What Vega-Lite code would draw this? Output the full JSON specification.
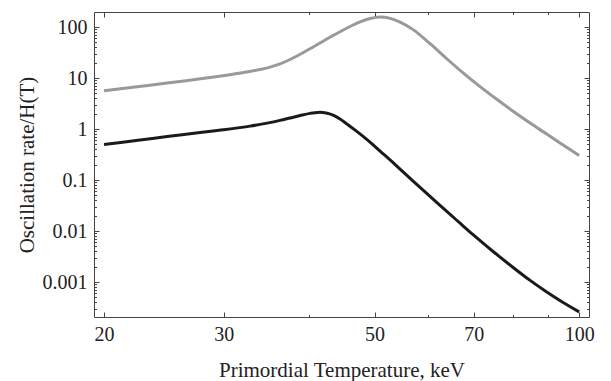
{
  "$schema": "https://vega.github.io/schema/vega-lite/v6.json",
  "width": 495,
  "height": 305,
  "autosize": {"type": "none"},
  "padding": {"left": 94, "top": 12, "right": 22, "bottom": 64},
  "background": "white",
  "config": {
    "view": {"stroke": "#444444", "strokeWidth": 1},
    "font": "Liberation Serif",
    "axis": {
      "labelFont": "Liberation Serif",
      "titleFont": "Liberation Serif",
      "labelFontSize": 20,
      "titleFontSize": 21,
      "titleFontWeight": "normal",
      "labelColor": "#222222",
      "titleColor": "#222222",
      "tickColor": "#444444",
      "domain": false,
      "grid": false
    }
  },
  "datasets": {
    "grey": [
      {"T": 20, "rate": 5.63},
      {"T": 22.22, "rate": 6.66},
      {"T": 24.76, "rate": 7.98},
      {"T": 27.23, "rate": 9.34},
      {"T": 29.93, "rate": 11.10},
      {"T": 32.24, "rate": 12.94},
      {"T": 33.93, "rate": 14.69},
      {"T": 35.10, "rate": 16.37},
      {"T": 36.31, "rate": 18.92},
      {"T": 37.56, "rate": 23.09},
      {"T": 38.86, "rate": 29.22},
      {"T": 40.61, "rate": 40.64},
      {"T": 43.01, "rate": 63.04},
      {"T": 45.56, "rate": 95.6},
      {"T": 47.62, "rate": 126.0},
      {"T": 49.26, "rate": 146.9},
      {"T": 50.95, "rate": 157.2},
      {"T": 52.71, "rate": 147.6},
      {"T": 54.52, "rate": 124.8},
      {"T": 56.98, "rate": 88.9},
      {"T": 60.35, "rate": 47.2},
      {"T": 63.93, "rate": 23.6},
      {"T": 67.49, "rate": 12.60},
      {"T": 71.49, "rate": 6.78},
      {"T": 75.74, "rate": 3.78},
      {"T": 79.96, "rate": 2.23},
      {"T": 84.70, "rate": 1.306},
      {"T": 89.72, "rate": 0.787},
      {"T": 94.72, "rate": 0.485},
      {"T": 100, "rate": 0.302}
    ],
    "black": [
      {"T": 20, "rate": 0.496},
      {"T": 22.59, "rate": 0.608},
      {"T": 24.76, "rate": 0.712},
      {"T": 27.69, "rate": 0.850},
      {"T": 29.93, "rate": 0.964},
      {"T": 32.80, "rate": 1.140},
      {"T": 34.74, "rate": 1.306},
      {"T": 36.31, "rate": 1.476},
      {"T": 37.56, "rate": 1.645},
      {"T": 38.86, "rate": 1.834},
      {"T": 40.20, "rate": 2.025},
      {"T": 41.30, "rate": 2.119},
      {"T": 42.43, "rate": 2.062},
      {"T": 43.45, "rate": 1.876},
      {"T": 44.49, "rate": 1.572},
      {"T": 45.56, "rate": 1.248},
      {"T": 46.82, "rate": 0.952},
      {"T": 48.10, "rate": 0.719},
      {"T": 49.43, "rate": 0.531},
      {"T": 50.95, "rate": 0.3696},
      {"T": 53.62, "rate": 0.2008},
      {"T": 56.98, "rate": 0.0951},
      {"T": 60.35, "rate": 0.0476},
      {"T": 63.93, "rate": 0.0239},
      {"T": 66.81, "rate": 0.01422},
      {"T": 69.82, "rate": 0.00850},
      {"T": 74.72, "rate": 0.00397},
      {"T": 79.96, "rate": 0.00193},
      {"T": 84.70, "rate": 0.001075},
      {"T": 89.72, "rate": 0.000630},
      {"T": 94.72, "rate": 0.000397},
      {"T": 100, "rate": 0.000260}
    ]
  },
  "layer": [
    {
      "data": {"name": "grey"},
      "mark": {"type": "line", "interpolate": "catmull-rom", "color": "#999999", "strokeWidth": 3},
      "encoding": {
        "x": {
          "field": "T", "type": "quantitative",
          "scale": {"type": "log", "domain": [19.33, 103.4], "nice": false},
          "axis": {
            "orient": "bottom",
            "title": "Primordial Temperature, keV",
            "values": [20, 30, 40, 50, 60, 70, 80, 90, 100],
            "labelExpr": "indexof([20,30,50,70,100], datum.value) >= 0 ? format(datum.value, '~g') : ''",
            "tickSize": {"expr": "indexof([20,30,50,70,100], datum.value) >= 0 ? -5 : -2.5"},
            "labelPadding": 12,
            "titleX": 247.5,
            "titleY": 59,
            "titleAlign": "center",
            "titleBaseline": "alphabetic"
          }
        },
        "y": {
          "field": "rate", "type": "quantitative",
          "scale": {"type": "log", "domain": [0.000206, 197], "nice": false},
          "axis": {
            "orient": "left",
            "title": "Oscillation rate/H(T)",
            "values": [0.0003,0.0004,0.0005,0.0006,0.0007,0.0008,0.0009,0.001,0.002,0.003,0.004,0.005,0.006,0.007,0.008,0.009,0.01,0.02,0.03,0.04,0.05,0.06,0.07,0.08,0.09,0.1,0.2,0.3,0.4,0.5,0.6,0.7,0.8,0.9,1,2,3,4,5,6,7,8,9,10,20,30,40,50,60,70,80,90,100],
            "labelExpr": "indexof([0.001,0.01,0.1,1,10,100], datum.value) >= 0 ? format(datum.value, '~g') : ''",
            "tickSize": {"expr": "indexof([0.001,0.01,0.1,1,10,100], datum.value) >= 0 ? -5 : -2.5"},
            "labelPadding": 12,
            "titleX": -61,
            "titleY": 152.5,
            "titleAngle": -90,
            "titleAlign": "center",
            "titleBaseline": "alphabetic"
          }
        }
      }
    },
    {
      "data": {"name": "black"},
      "mark": {"type": "line", "interpolate": "catmull-rom", "color": "#1a1a1a", "strokeWidth": 3},
      "encoding": {
        "x": {
          "field": "T", "type": "quantitative",
          "axis": {
            "orient": "top",
            "title": null,
            "labels": false,
            "values": [20, 30, 40, 50, 60, 70, 80, 90, 100],
            "tickSize": {"expr": "indexof([20,30,50,70,100], datum.value) >= 0 ? -5 : -2.5"}
          }
        },
        "y": {
          "field": "rate", "type": "quantitative",
          "axis": {
            "orient": "right",
            "title": null,
            "labels": false,
            "values": [0.0003,0.0004,0.0005,0.0006,0.0007,0.0008,0.0009,0.001,0.002,0.003,0.004,0.005,0.006,0.007,0.008,0.009,0.01,0.02,0.03,0.04,0.05,0.06,0.07,0.08,0.09,0.1,0.2,0.3,0.4,0.5,0.6,0.7,0.8,0.9,1,2,3,4,5,6,7,8,9,10,20,30,40,50,60,70,80,90,100],
            "tickSize": {"expr": "indexof([0.001,0.01,0.1,1,10,100], datum.value) >= 0 ? -5 : -2.5"}
          }
        }
      }
    }
  ],
  "resolve": {"axis": {"x": "independent", "y": "independent"}}
}
